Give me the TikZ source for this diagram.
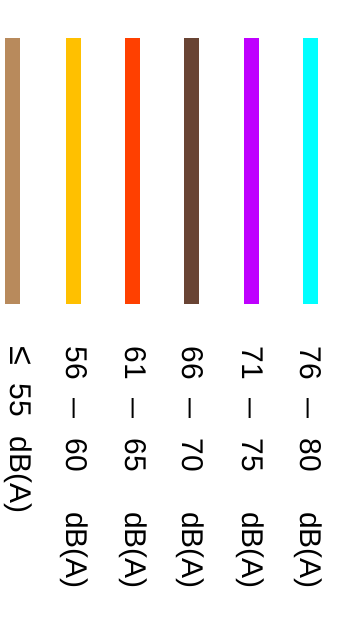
\documentclass[tikz,border=0pt]{standalone}
\usepackage{fontspec}
\setmainfont{Liberation Sans}
\usepackage{graphicx}
\definecolor{tanc}{HTML}{B88A5C}
\definecolor{goldc}{HTML}{FFC000}
\definecolor{redc}{HTML}{FF4000}
\definecolor{brownc}{HTML}{694434}
\definecolor{purplec}{HTML}{BF00FF}
\definecolor{cyanc}{HTML}{00FFFF}
\tikzset{
  colbar/.style={fill=#1, draw=none},
  lbl/.style={rotate=-90, anchor=base west, inner sep=0pt, font=\fontsize{30}{36}\selectfont}
}
\newcommand\dbrange[2]{#1\hspace{18.1pt}\scalebox{1.2}[1]{–}\hspace{20.7pt}#2\hspace{40pt}dB(A)}
\begin{document}
\begin{tikzpicture}[x=1pt,y=-1pt]
\useasboundingbox (0,0) rectangle (338,637);
\fill[colbar=tanc]    (5,38)   rectangle (20,304);
\fill[colbar=goldc]   (66,38)  rectangle (81,304);
\fill[colbar=redc]    (125,38) rectangle (140,304);
\fill[colbar=brownc]  (184.3,38) rectangle (199.3,304);
\fill[colbar=purplec] (244,38) rectangle (259,304);
\fill[colbar=cyanc]   (303,38) rectangle (318.3,304);
\node[lbl] (l1) at (10.5,346.5) {\scalebox{1.15}{≤}\hspace{17.9pt}55\hspace{20pt}dB(A)};
\node[lbl] (l2) at (66,346.5) {\dbrange{56}{60}};
\node[lbl] (l3) at (125.5,346.5) {\dbrange{61}{65}};
\node[lbl] (l4) at (182.5,346.5) {\dbrange{66}{70}};
\node[lbl] (l5) at (242.5,346.5) {\dbrange{71}{75}};
\node[lbl] (l6) at (300.5,346.5) {\dbrange{76}{80}};
\end{tikzpicture}
\end{document}
